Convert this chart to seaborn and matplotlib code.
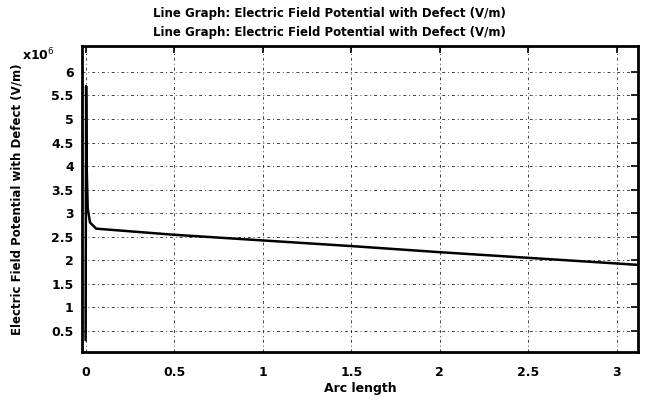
import matplotlib
matplotlib.use("Agg")
import matplotlib.pyplot as plt
import matplotlib.ticker as mticker
import numpy as np
import pandas as pd
import seaborn as sns

# Arc length along the cut line and field values (V/m)
arc_length = [0.0, 0.003, 0.006, 0.012, 0.025, 0.06, 0.5, 1.0, 1.5, 2.0, 2.5, 3.0, 3.12]
field_values = [0.3e6, 5.7e6, 4.0e6, 3.1e6, 2.8e6, 2.67e6, 2.54e6, 2.42e6, 2.30e6,
                2.17e6, 2.05e6, 1.93e6, 1.90e6]

x_ticks = [0, 0.5, 1, 1.5, 2, 2.5, 3]
y_ticks = [0.5e6, 1e6, 1.5e6, 2e6, 2.5e6, 3e6, 3.5e6, 4e6, 4.5e6, 5e6, 5.5e6, 6e6]

titel = "Line Graph: Electric Field Potential with Defect (V/m)"

df = pd.DataFrame({"arc": arc_length, "field": field_values})

sns.set_theme(style="white")
plt.rcParams["font.family"] = ["DejaVu Sans"]
plt.rcParams["text.color"] = "black"
plt.rcParams["axes.labelcolor"] = "black"

fig = plt.figure(figsize=(6.46, 4.0), dpi=100)
ax = fig.add_axes([0.127, 0.12, 0.861, 0.765])

sns.lineplot(data=df, x="arc", y="field", color="black", linewidth=1.8,
             sort=False, estimator=None, ax=ax)

ax.set_xlim(-0.02, 3.12)
ax.set_ylim(0.05e6, 6.55e6)
ax.set_xticks(x_ticks)
ax.set_yticks(y_ticks)
ax.xaxis.set_major_formatter(mticker.FuncFormatter(lambda v, p: f"{v:g}"))
ax.yaxis.set_major_formatter(mticker.FuncFormatter(lambda v, p: f"{v / 1e6:g}"))
ax.grid(True, color="black", linestyle=(0, (3, 3, 1, 3)), linewidth=0.7, alpha=0.75)

for s in ax.spines.values():
    s.set_color("black")
    s.set_linewidth(2)

ax.tick_params(axis="both", direction="in", length=5, width=1.2, colors="black",
               labelsize=9, top=True, right=True)
ax.tick_params(axis="x", pad=10)
ax.tick_params(axis="y", pad=6)
for lbl in ax.get_xticklabels() + ax.get_yticklabels():
    lbl.set_fontweight("bold")

ax.set_xlabel("Arc length", fontsize=9, fontweight="bold", labelpad=2)
ax.set_ylabel("Electric Field Potential with Defect (V/m)", fontsize=8.5,
              fontweight="bold", labelpad=20)
ax.set_title(titel + "\n" + titel, fontsize=8.5, fontweight="bold",
             linespacing=1.6, pad=7, x=0.445)

fig.text(0.085, 0.862, "x10$^6$", fontsize=9, fontweight="bold",
         ha="right", va="center")

fig.savefig("out.png", dpi=100)
